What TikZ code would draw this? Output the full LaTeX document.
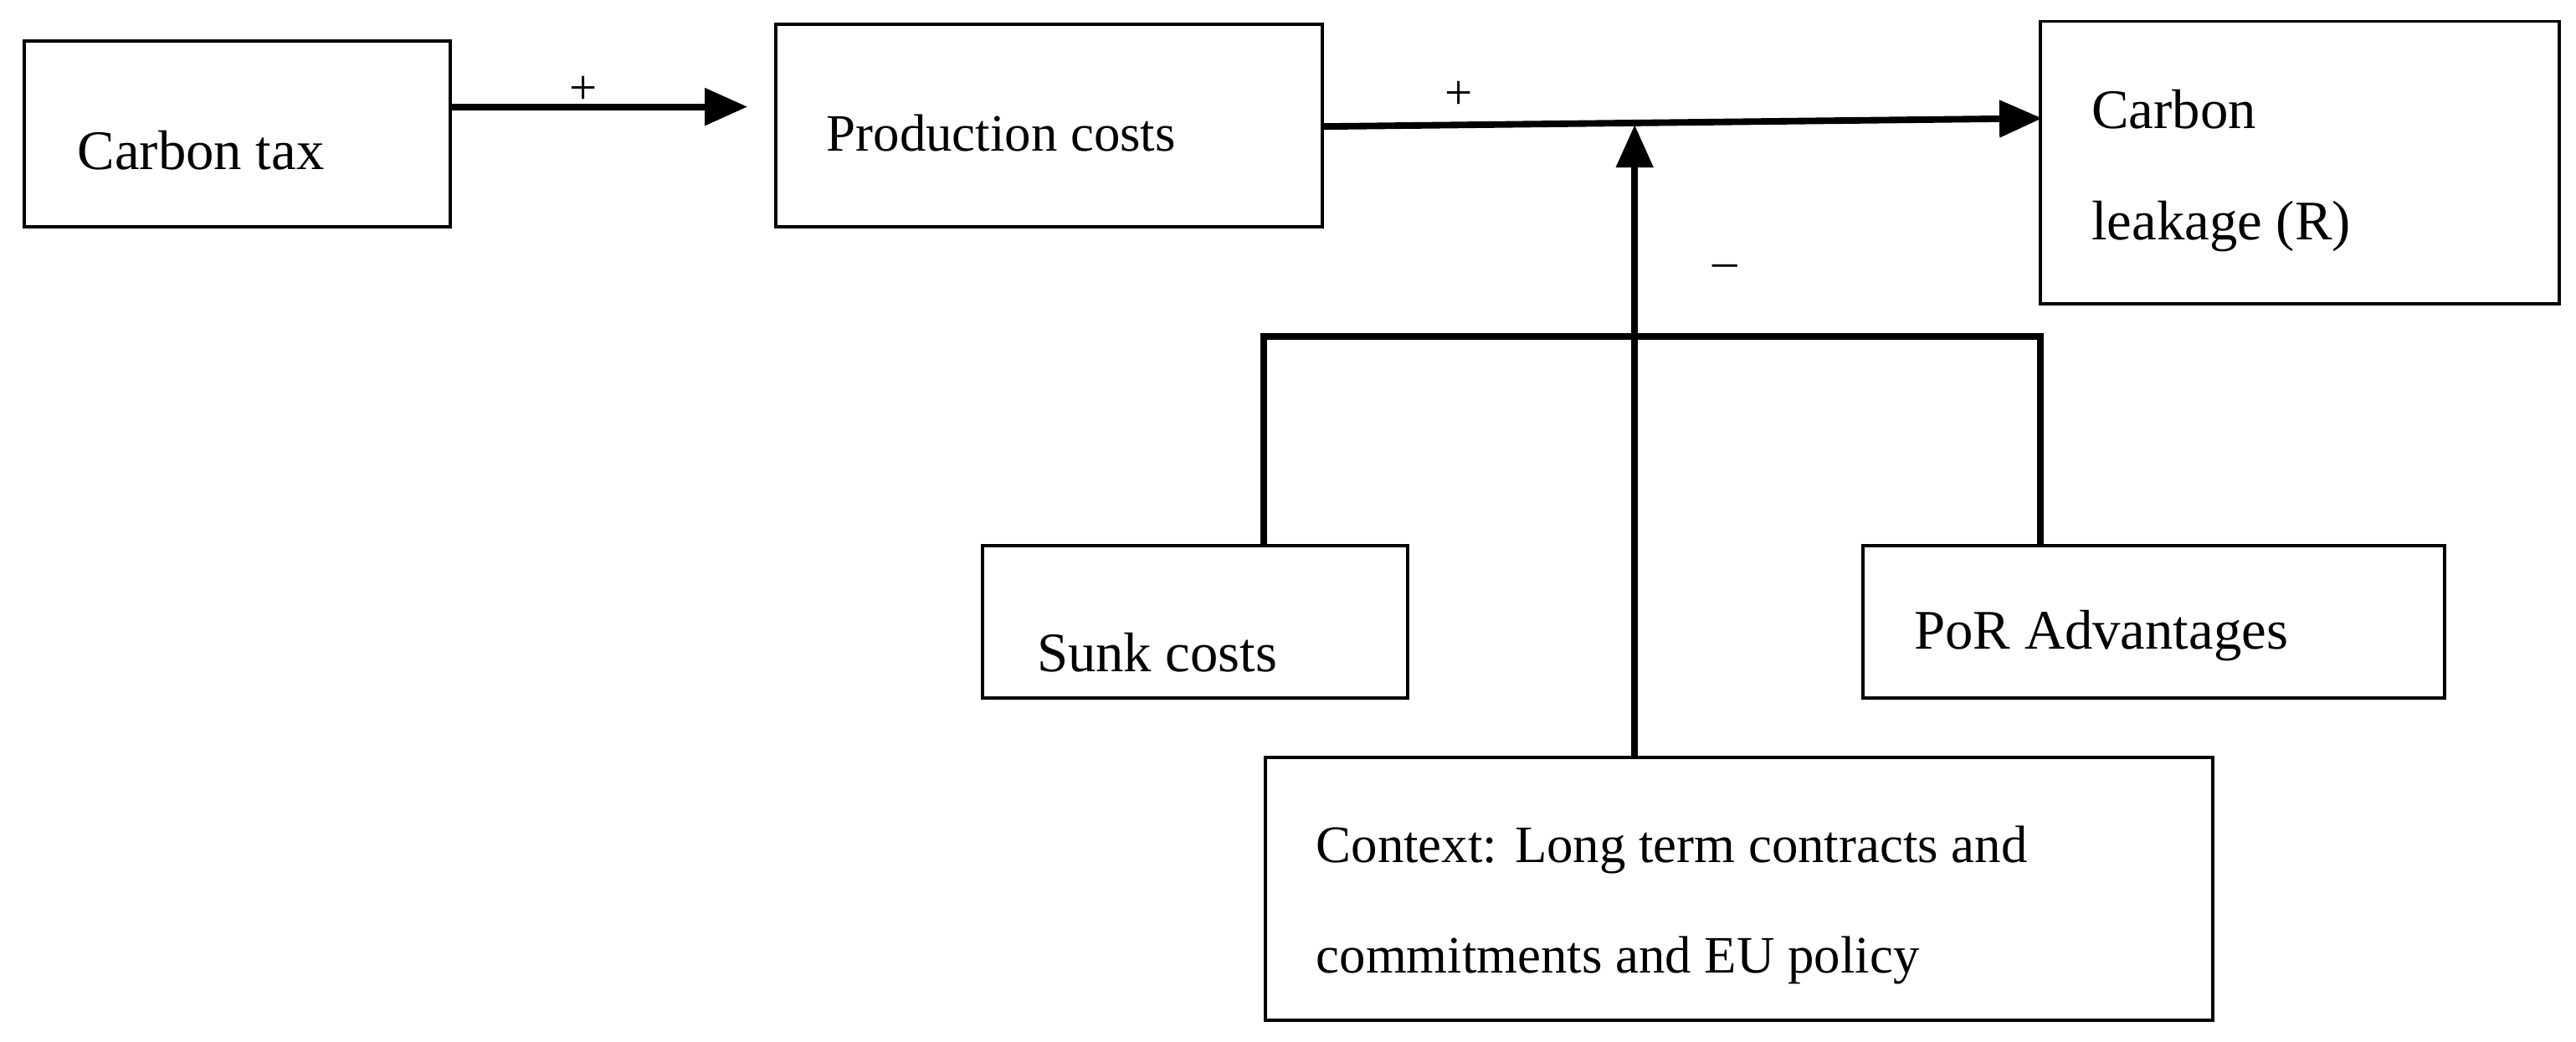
\documentclass[tikz,border=0pt]{standalone}
\usepackage{fontspec}
\setmainfont{Liberation Serif}
\usetikzlibrary{arrows.meta}
\begin{document}
\begin{tikzpicture}[x=1pt,y=-1pt,
 box/.style={draw,line width=2pt,inner sep=0,anchor=north west},
 lbl/.style={anchor=base west,inner sep=0,font=\fontsize{34}{40}\selectfont},
 conn/.style={line width=4pt},
 arr/.style={conn,-{Triangle[length=26pt,width=22pt]}},
 sign/.style={font=\fontsize{30}{30}\selectfont}]
\useasboundingbox (0,0) rectangle (1568,634);
\node[box,minimum width=259pt,minimum height=113pt] (tax) at (14,24) {};
\node[box,minimum width=333pt,minimum height=123pt] (prod) at (471,14) {};
\node[box,minimum width=316pt,minimum height=172pt] (leak) at (1241,12) {};
\node[box,minimum width=259pt,minimum height=93pt] (sunk) at (597,331) {};
\node[box,minimum width=354pt,minimum height=93pt] (por) at (1133,331) {};
\node[box,minimum width=577pt,minimum height=160pt] (ctx) at (769,460) {};
\node[lbl] at (47,103) {Carbon tax};
\node[lbl,font=\fontsize{32}{38}\selectfont] at (503,92) {Production costs};
\node[lbl] at (1273,78) {Carbon};
\node[lbl] at (1273,146) {leakage (R)};
\node[lbl] at (631,409) {Sunk costs};
\node[lbl] at (1165,395) {PoR Advantages};
\node[lbl,font=\fontsize{32}{38}\selectfont] at (801,525) {Context: Long term contracts and};
\node[lbl,font=\fontsize{32}{38}\selectfont] at (801,592) {commitments and EU policy};
\coordinate (taxend) at (455,65);
\coordinate (leakend) at (1243,72);
\coordinate (join) at (995,76);
\coordinate (bl) at (769,205);
\coordinate (br) at (1242,205);
\draw[arr] (tax.east |- taxend) -- (taxend);
\draw[arr] (prod.east |- 0,77) -- (leakend);
\draw[arr] (ctx.north -| join) -- (join);
\draw[conn] (sunk.north -| bl) -- (bl) -- (br) -- (por.north -| br);
\node[sign] at (355,55) {+};
\node[sign] at (888,58) {+};
\node[sign] at (1050,165) {--};
\end{tikzpicture}
\end{document}
